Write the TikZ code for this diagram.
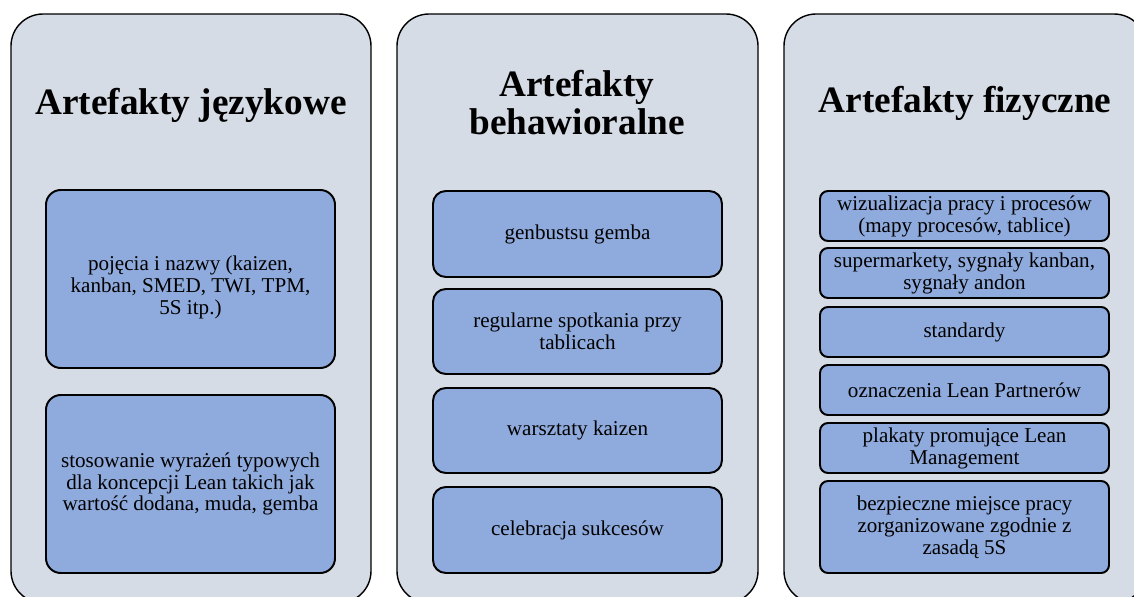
\documentclass[tikz,border=0pt]{standalone}
\usepackage{fontspec}
\setmainfont{Liberation Serif}

\definecolor{panelgray}{HTML}{D6DCE5}
\definecolor{itemblue}{HTML}{8FAADC}

\tikzset{
  panel/.style={draw=black, line width=1pt, fill=panelgray, rounded corners=0.8cm},
  item/.style={draw=black, line width=1.4pt, fill=itemblue},
  itemtext/.style={align=center, inner sep=0pt, font=\fontsize{15}{15.6}\selectfont},
  title/.style={align=center, inner sep=0pt, font=\fontsize{26.5}{27}\selectfont\bfseries}
}

\begin{document}
\begin{tikzpicture}[x=0.025cm, y=-0.025cm]
  \useasboundingbox (0,0) rectangle (1134,597);
  \clip (0,0) rectangle (1134,597);

  % jezykowe
  \draw[panel] (11,14) rectangle (371,603);
  \node[title, anchor=base] (tjez) at (191,115) {Artefakty językowe};
  \draw[item, rounded corners=0.37cm] (46,190) rectangle
    node[itemtext, yshift=-0.2cm] (jez1) {pojęcia i nazwy (kaizen,\\ kanban, SMED, TWI, TPM,\\ 5S itp.)} (335,368);
  \draw[item, rounded corners=0.37cm] (46,395) rectangle
    node[itemtext] (jez2) {stosowanie wyrażeń typowych\\ dla koncepcji Lean takich jak\\ wartość dodana, muda, gemba} (335,573);

  % behawioralne
  \draw[panel] (397,14) rectangle (758,603);
  \node[title] (tbeh) at (577,103) {Artefakty\\ behawioralne};
  \draw[item, rounded corners=0.32cm] (433,191) rectangle
    node[itemtext] (beh1) {genbustsu gemba} (722,277);
  \draw[item, rounded corners=0.32cm] (433,289) rectangle
    node[itemtext] (beh2) {regularne spotkania przy\\ tablicach} (722,374);
  \draw[item, rounded corners=0.32cm] (433,388) rectangle
    node[itemtext] (beh3) {warsztaty kaizen} (722,473);
  \draw[item, rounded corners=0.32cm] (433,487) rectangle
    node[itemtext] (beh4) {celebracja sukcesów} (722,573);

  % fizyczne
  \draw[panel] (784,14) rectangle (1146,603);
  \node[title, anchor=base] (tfiz) at (965,113) {Artefakty fizyczne};
  \draw[item, rounded corners=0.2cm] (820,191) rectangle
    node[itemtext] (fiz1) {wizualizacja pracy i procesów\\ (mapy procesów, tablice)} (1109,241);
  \draw[item, rounded corners=0.2cm] (820,248) rectangle
    node[itemtext] (fiz2) {supermarkety, sygnały kanban,\\ sygnały andon} (1109,298);
  \draw[item, rounded corners=0.2cm] (820,307) rectangle
    node[itemtext] (fiz3) {standardy} (1109,357);
  \draw[item, rounded corners=0.2cm] (820,365) rectangle
    node[itemtext] (fiz4) {oznaczenia Lean Partnerów} (1109,415);
  \draw[item, rounded corners=0.2cm] (820,423) rectangle
    node[itemtext] (fiz5) {plakaty promujące Lean\\ Management} (1109,473);
  \draw[item, rounded corners=0.2cm] (820,481) rectangle
    node[itemtext] (fiz6) {bezpieczne miejsce pracy\\ zorganizowane zgodnie z\\ zasadą 5S} (1109,573);
\end{tikzpicture}
\end{document}
